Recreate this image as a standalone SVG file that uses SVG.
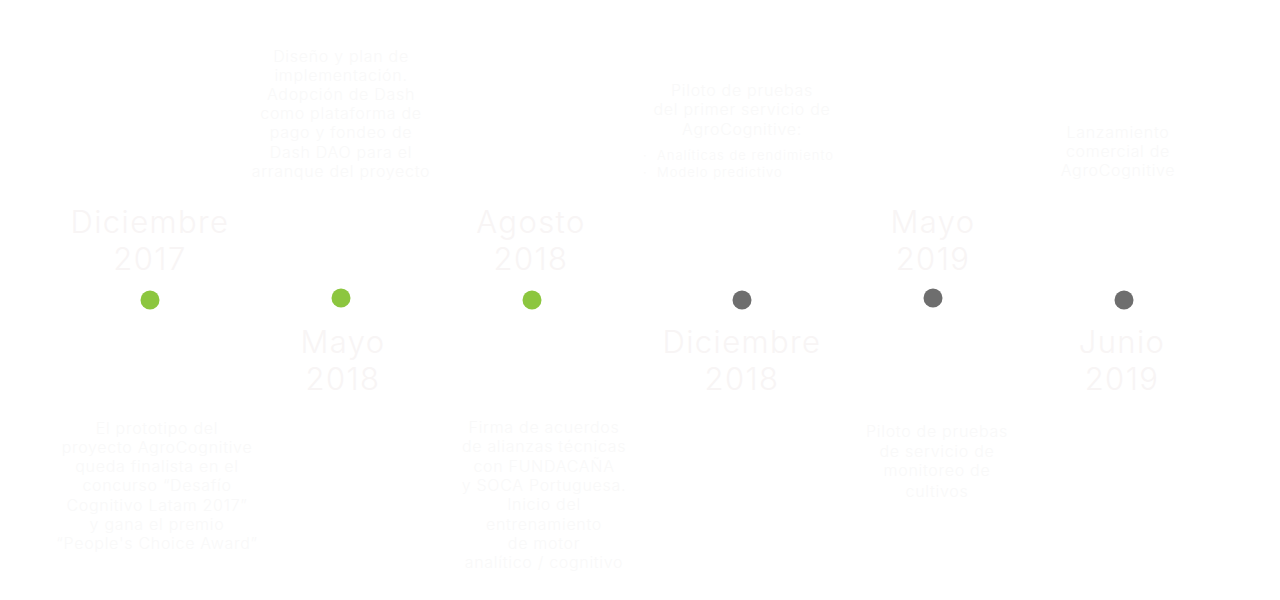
<svg xmlns="http://www.w3.org/2000/svg" width="1280" height="600" viewBox="0 0 1280 600">
<style>
.yr{font-family:Inter,"Noto Sans",sans-serif;font-size:31px;font-weight:300;letter-spacing:1.4px;fill:#f8f5f5;text-anchor:middle}
.d{font-family:Inter,"Noto Sans",sans-serif;font-size:16px;font-weight:300;letter-spacing:0.7px;fill:#f9f9f9;text-anchor:middle}
.b{font-family:Inter,"Noto Sans",sans-serif;font-size:13px;font-weight:300;letter-spacing:1px;fill:#f9f9f9}
.g{fill:#8cc63f}
.k{fill:#6e6e6e}
</style>
<rect width="1280" height="600" fill="#ffffff"/>
<g id="connectors"></g>
<g id="n1">
<circle class="g" cx="150" cy="300" r="9.5"/>
<text class="yr" x="150" y="233">Diciembre</text>
<text class="yr" x="150" y="270">2017</text>
<text class="d" x="157" y="434">El prototipo del</text>
<text class="d" x="157" y="453">proyecto AgroCognitive</text>
<text class="d" x="157" y="472">queda finalista en el</text>
<text class="d" x="157" y="491">concurso “Desafío</text>
<text class="d" x="157" y="511">Cognitivo Latam 2017”</text>
<text class="d" x="157" y="530">y gana el premio</text>
<text class="d" x="157" y="549">“People's Choice Award”</text>
</g>
<g id="n2">
<circle class="g" cx="341" cy="298" r="9.5"/>
<text class="yr" x="343" y="353">Mayo</text>
<text class="yr" x="343" y="390">2018</text>
<text class="d" x="341" y="62">Diseño y plan de</text>
<text class="d" x="341" y="81">implementación.</text>
<text class="d" x="341" y="100">Adopción de Dash</text>
<text class="d" x="341" y="119">como plataforma de</text>
<text class="d" x="341" y="138">pago y fondeo de</text>
<text class="d" x="341" y="158">Dash DAO para el</text>
<text class="d" x="341" y="177">arranque del proyecto</text>
</g>
<g id="n3">
<circle class="g" cx="532" cy="300" r="9.5"/>
<text class="yr" x="531" y="233">Agosto</text>
<text class="yr" x="531" y="270">2018</text>
<text class="d" x="544" y="433">Firma de acuerdos</text>
<text class="d" x="544" y="452">de alianzas técnicas</text>
<text class="d" x="544" y="472">con FUNDACAÑA</text>
<text class="d" x="544" y="491">y SOCA Portuguesa.</text>
<text class="d" x="544" y="510">Inicio del</text>
<text class="d" x="544" y="530">entrenamiento</text>
<text class="d" x="544" y="549">de motor</text>
<text class="d" x="544" y="568">analítico / cognitivo</text>
</g>
<g id="n4">
<circle class="k" cx="742" cy="300" r="9.5"/>
<text class="yr" x="742" y="353">Diciembre</text>
<text class="yr" x="742" y="390">2018</text>
<text class="d" x="742" y="96">Piloto de pruebas</text>
<text class="d" x="742" y="115">del primer servicio de</text>
<text class="d" x="742" y="135">AgroCognitive:</text>
<text class="b" x="643" y="160">·</text>
<text class="b" x="657" y="160">Analíticas de rendimiento</text>
<text class="b" x="643" y="177">·</text>
<text class="b" x="657" y="177">Modelo predictivo</text>
</g>
<g id="n5">
<circle class="k" cx="933" cy="298" r="9.5"/>
<text class="yr" x="933" y="233">Mayo</text>
<text class="yr" x="933" y="270">2019</text>
<text class="d" x="937" y="437">Piloto de pruebas</text>
<text class="d" x="937" y="457">de servicio de</text>
<text class="d" x="937" y="476">monitoreo de</text>
<text class="d" x="937" y="497">cultivos</text>
</g>
<g id="n6">
<circle class="k" cx="1124" cy="300" r="9.5"/>
<text class="yr" x="1122" y="353">Junio</text>
<text class="yr" x="1122" y="390">2019</text>
<text class="d" x="1118" y="138">Lanzamiento</text>
<text class="d" x="1118" y="157">comercial de</text>
<text class="d" x="1118" y="176">AgroCognitive</text>
</g>
</svg>
